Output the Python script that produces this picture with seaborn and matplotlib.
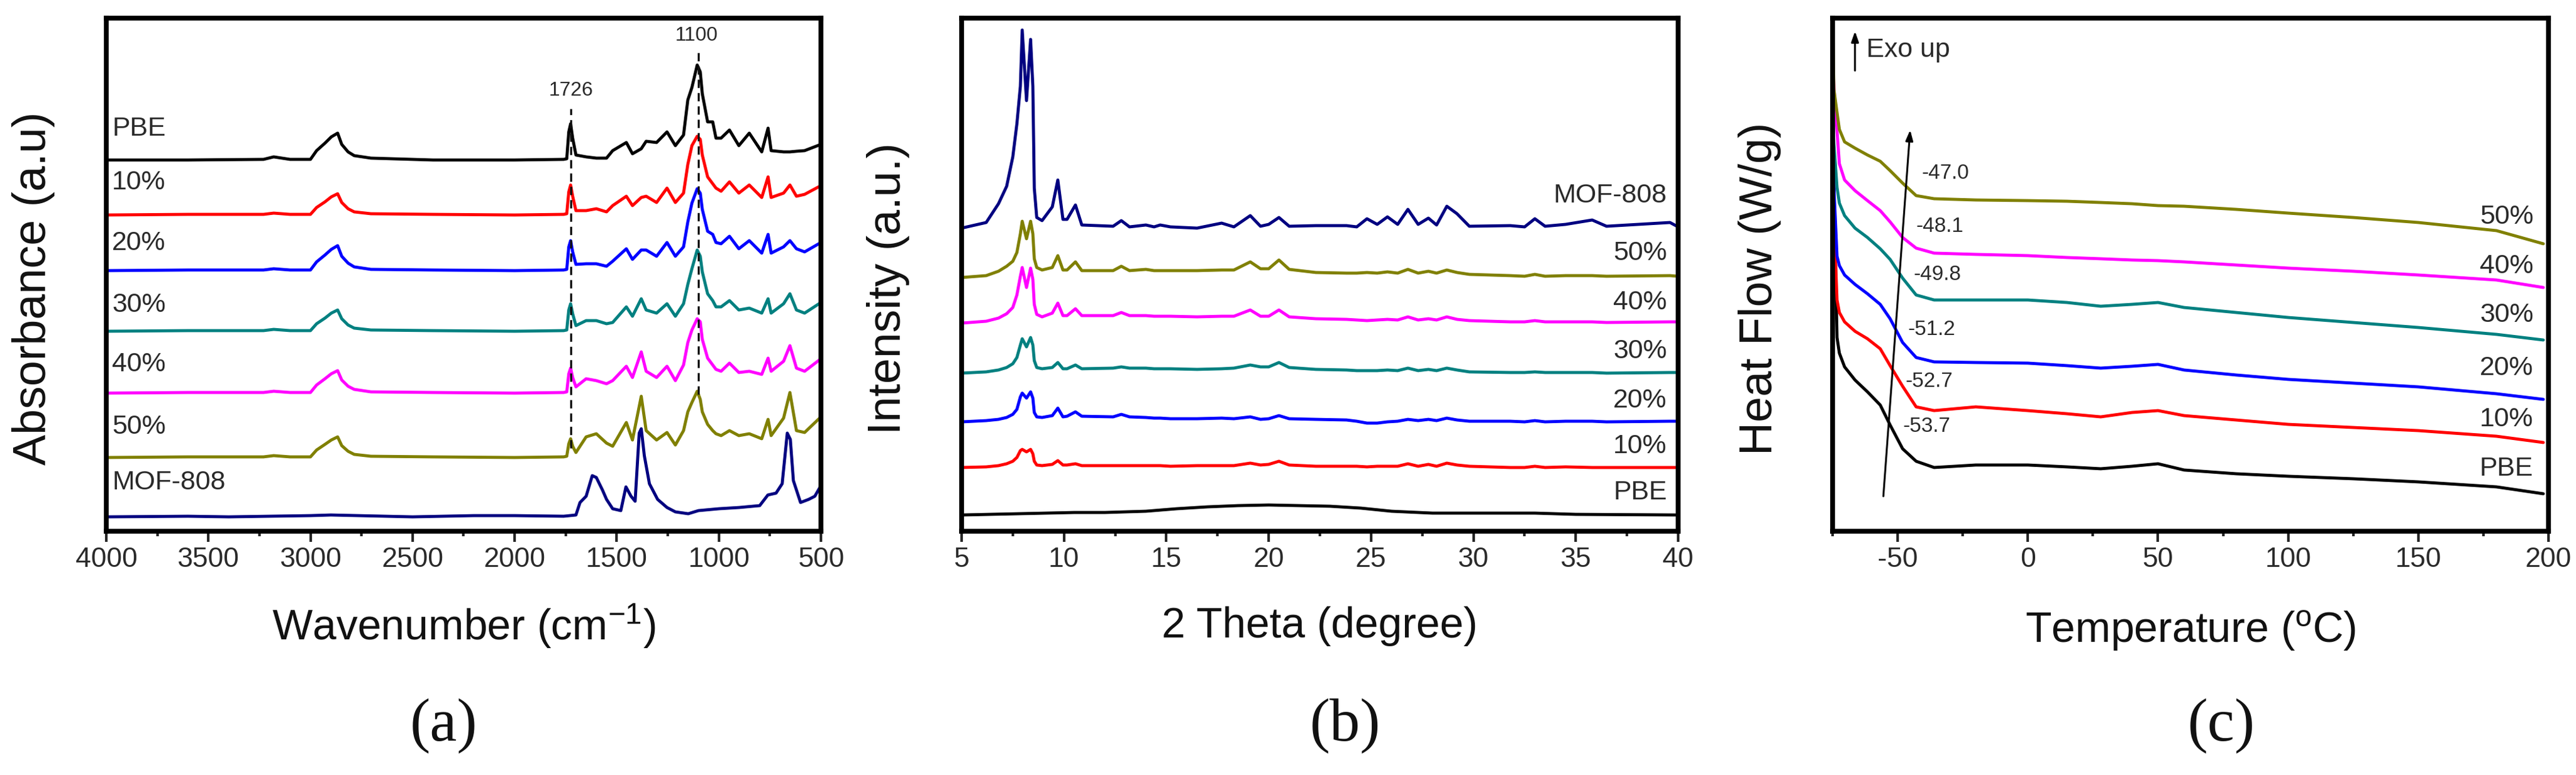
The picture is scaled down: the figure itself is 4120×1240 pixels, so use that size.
import numpy as np
import pandas as pd
import matplotlib
matplotlib.use("Agg")
import matplotlib.pyplot as plt
import seaborn as sns
from matplotlib.ticker import MultipleLocator, NullLocator

# (a) FTIR: shared wavenumber grid for PBE and the composites
FTIR_WN = [4000, 3600, 3230, 3180, 3100, 3000, 2970, 2929, 2898, 2867,
           2847, 2816, 2786, 2704, 2400, 2000, 1760, 1745, 1735, 1726,
           1716, 1700, 1650, 1600, 1550, 1520, 1453, 1423, 1380, 1356,
           1305, 1254, 1213, 1173, 1152, 1132, 1106, 1091, 1081, 1055,
           1030, 1014, 989, 948, 902, 851, 790, 759, 744, 683,
           652, 620, 580, 500]
FTIR_PBE = [0, 0, 1, 5, 1, 1, 15, 27, 37, 43, 25, 13, 7, 3, 0, 0, 1, 2, 45, 58,
            35, 8, 5, 3, 3, 15, 28, 10, 18, 30, 28, 45, 23, 40, 96, 116, 152, 141, 106, 61,
            61, 35, 35, 48, 23, 43, 13, 51, 15, 13, 13, 14, 15, 25]
FTIR_10 = [0, 1, 1, 3, 1, 1, 12, 21, 29, 34, 20, 10, 5, 2, 1, 0, 1, 2, 37, 48,
           30, 7, 7, 10, 5, 15, 30, 15, 28, 30, 20, 43, 20, 35, 81, 111, 126, 121, 96, 61,
           50, 43, 38, 53, 35, 48, 28, 61, 28, 35, 48, 30, 33, 47]
FTIR_20 = [0, 1, 1, 3, 1, 1, 14, 25, 34, 40, 23, 12, 6, 2, 1, 0, 1, 2, 38, 48,
           30, 10, 11, 11, 7, 15, 35, 18, 33, 33, 23, 45, 23, 38, 78, 108, 131, 124, 98, 63,
           58, 45, 43, 55, 35, 48, 28, 58, 28, 38, 48, 35, 30, 45]
FTIR_30 = [0, 1, 1, 3, 1, 1, 12, 21, 29, 34, 20, 10, 5, 2, 1, 0, 1, 2, 34, 44,
           28, 9, 17, 17, 12, 14, 39, 24, 52, 34, 29, 44, 24, 44, 75, 100, 130, 120, 95, 60,
           49, 39, 39, 49, 34, 37, 29, 52, 29, 44, 60, 34, 29, 46]
FTIR_40 = [0, 1, 1, 3, 1, 1, 13, 23, 31, 36, 21, 11, 6, 2, 1, 0, 1, 2, 31, 40,
           25, 10, 23, 20, 15, 20, 43, 25, 66, 35, 25, 43, 20, 45, 81, 101, 119, 114, 86, 56,
           45, 38, 35, 48, 33, 35, 30, 56, 35, 51, 76, 40, 35, 55]
FTIR_50 = [0, 1, 1, 3, 1, 1, 12, 21, 28, 33, 19, 10, 5, 2, 1, 0, 1, 2, 22, 30,
           18, 8, 33, 38, 23, 18, 56, 28, 98, 43, 28, 40, 20, 43, 73, 88, 106, 93, 73, 53,
           43, 38, 35, 43, 35, 38, 30, 61, 35, 63, 104, 43, 40, 65]
FTIR_BASE = [594, 506, 417, 320, 221, 118]
MOF_WN = [4000, 3600, 3400, 3000, 2900, 2500, 2200, 2000, 1760, 1700,
          1680, 1650, 1620, 1600, 1570, 1550, 1520, 1480, 1455, 1430,
          1410, 1390, 1380, 1365, 1340, 1300, 1254, 1213, 1150, 1100,
          1000, 900, 800, 760, 720, 690, 665, 650, 635, 600,
          560, 530, 500]
MOF_ABS = [0, 1, 0, 2, 3, 0, 2, 2, 1, 3, 23, 33, 66, 63, 43, 28, 13, 10, 48, 33,
           25, 134, 141, 98, 53, 28, 15, 8, 5, 10, 13, 15, 18, 35, 38, 53, 134, 124, 58, 23,
           28, 33, 50]
MOF_ABS_BASE = 23
PEAK_WN = [1726, 1100]
PEAK_LINE_LOW = [133, 219]
PEAK_LINE_HIGH = [676, 767]

# (b) XRD
XRD_TT = [5.0, 6.2, 6.8, 7.2, 7.5, 7.7, 7.87, 7.96, 8.17, 8.37,
          8.48, 8.55, 8.67, 8.93, 9.43, 9.7, 9.95, 10.15, 10.56, 10.87,
          12.4, 12.8, 13.2, 14.0, 14.4, 14.7, 15.2, 16.5, 17.7, 18.3,
          19.1, 19.6, 20.0, 20.5, 21.0, 22.3, 23.8, 24.3, 24.8, 25.3,
          25.8, 26.3, 26.8, 27.3, 27.8, 28.2, 28.7, 29.2, 29.8, 31.8,
          32.5, 33.0, 33.5, 34.5, 35.8, 36.5, 39.6, 40.0]
XRD_MOF = [0, 9, 39, 67, 114, 167, 227, 317, 204, 302,
           227, 64, 17, 12, 34, 77, 14, 14, 37, 5,
           3, 12, 2, 5, 2, 5, 2, 0, 8, 2,
           20, 3, 6, 17, 3, 4, 4, 2, 15, 6,
           18, 6, 30, 6, 16, 5, 35, 23, 3, 4,
           2, 15, 3, 6, 13, 3, 9, 2]
XRD_50 = [0, 3, 10, 18, 26, 40, 70, 90, 62, 90,
          70, 30, 16, 12, 16, 35, 12, 12, 25, 11,
          11, 18, 11, 13, 11, 11, 11, 11, 12, 12,
          25, 14, 14, 28, 13, 8, 7, 7, 8, 7,
          9, 7, 13, 7, 10, 7, 12, 8, 5, 3,
          2, 5, 2, 3, 3, 2, 3, 2]
XRD_40 = [0, 3, 8, 15, 25, 45, 75, 89, 57, 88,
          70, 30, 14, 10, 16, 32, 12, 12, 23, 12,
          12, 17, 12, 12, 11, 11, 11, 10, 11, 11,
          21, 11, 11, 21, 10, 7, 6, 5, 4, 5,
          6, 5, 10, 5, 7, 5, 10, 6, 4, 2,
          2, 4, 2, 2, 2, 1, 2, 2]
XRD_30 = [0, 2, 5, 9, 15, 25, 45, 55, 42, 57,
          45, 20, 9, 7, 9, 17, 7, 7, 13, 7,
          8, 10, 8, 8, 7, 7, 7, 6, 7, 8,
          13, 10, 10, 17, 9, 6, 5, 4, 4, 4,
          5, 4, 8, 4, 6, 4, 8, 5, 2, 1,
          1, 2, 1, 1, 1, 0, 1, 1]
XRD_20 = [0, 2, 4, 7, 12, 20, 40, 46, 38, 48,
          38, 15, 8, 7, 10, 22, 8, 9, 16, 9,
          8, 12, 8, 7, 6, 6, 5, 5, 6, 5,
          8, 4, 5, 10, 5, 4, 3, 1, -2, -2,
          0, 1, 4, 2, 4, 2, 6, 3, 1, 1,
          0, 2, 0, 1, 1, 0, 1, 1]
XRD_10 = [0, 1, 3, 6, 10, 16, 27, 29, 25, 29,
          22, 10, 4, 3, 5, 11, 4, 4, 6, 3,
          3, 3, 3, 3, 3, 3, 2, 3, 3, 3,
          7, 4, 5, 10, 4, 2, 2, 2, 1, 2,
          2, 2, 6, 2, 5, 2, 7, 4, 2, 0,
          0, 2, 0, 1, 0, 0, 0, 0]
XRD_BASE = [485, 406, 333, 253, 175, 102]
PBE_TT = [5, 10.5, 12, 14, 15.5, 17, 18.5, 20, 21.5, 23, 24.5, 26, 28, 33, 35, 40]
PBE_INT = [0, 4, 4, 6, 10, 13, 15, 16, 15, 14, 11, 6, 3, 3, 1, 0]
PBE_INT_BASE = 26

# (c) DSC
DSC_T = [-75, -74.5, -73.3, -72.4, -70.4, -66.4, -61.6, -56.7, -52.9, -48.1,
         -42.9, -36, -20, 0, 15, 28, 40, 50, 60, 80, 100, 125, 150, 180, 198]
DSC_50 = [821, 707, 670, 643, 623, 613, 602, 592, 577, 557, 537, 532, 530, 529, 528,
          526, 524, 521, 520, 515, 509, 502, 494, 481, 460]
DSC_40 = [767, 710, 640, 588, 562, 545, 529, 513, 495, 470, 453, 445, 443, 441, 438,
          436, 434, 433, 431, 426, 421, 416, 410, 402, 390]
DSC_30 = [663, 620, 550, 525, 505, 485, 470, 452, 435, 405, 378, 370, 370, 370, 366,
          360, 363, 366, 358, 350, 342, 334, 326, 315, 306]
DSC_20 = [620, 550, 440, 425, 410, 395, 380, 363, 340, 302, 278, 271, 270, 269, 265,
          261, 264, 267, 258, 250, 243, 237, 231, 220, 211]
DSC_10 = [577, 500, 370, 350, 335, 320, 308, 292, 265, 232, 199, 193, 199, 193, 188,
          183, 190, 193, 185, 178, 171, 166, 161, 152, 142]
DSC_PBE = [707, 550, 310, 285, 263, 242, 223, 202, 170, 132, 112, 102, 106, 106, 103,
           100, 104, 108, 98, 92, 88, 84, 79, 71, 60]
TG_TEXT = ["-47.0", "-48.1", "-49.8", "-51.2", "-52.7", "-53.7"]
TG_X = [-40.8, -42.9, -44.0, -46.0, -47.1, -48.1]
TG_Y = [572, 487, 410, 322, 239, 167]

SAMPLES = ["PBE", "10%", "20%", "30%", "40%", "50%", "MOF-808"]
COLORS = ["#000000", "#ff0000", "#0000ff", "#008080", "#ff00ff", "#808000", "#000080"]

sns.set_style("ticks")
plt.rcParams["font.family"] = ["Liberation Sans", "DejaVu Sans"]
plt.rcParams["mathtext.fontset"] = "custom"
plt.rcParams["mathtext.rm"] = "Liberation Sans"
plt.rcParams["mathtext.it"] = "Liberation Sans:italic"
plt.rcParams["axes.unicode_minus"] = False

TXT = "#2a2a2a"
LW = 3.5

fig = plt.figure(figsize=(41.2, 12.4), dpi=100)
axa = fig.add_axes([0.04126, 0.31452, 0.27743, 0.66210])
axb = fig.add_axes([0.37330, 0.31452, 0.27816, 0.66210])
axc = fig.add_axes([0.71141, 0.31452, 0.27791, 0.66210])


def style(ax, xlim, major, minor, xlabel, ylabel, lab_y):
    ax.set_xlim(*xlim)
    ax.set_ylim(0, 821)
    ax.xaxis.set_major_locator(MultipleLocator(major))
    ax.xaxis.set_minor_locator(MultipleLocator(minor))
    ax.yaxis.set_major_locator(NullLocator())
    ax.yaxis.set_minor_locator(NullLocator())
    for s in ax.spines.values():
        s.set_linewidth(5.5)
        s.set_color("black")
        s.set_visible(True)
    ax.tick_params(axis="x", which="major", direction="out", length=12, width=3,
                   pad=6, labelsize=32, labelcolor=TXT)
    ax.tick_params(axis="x", which="minor", direction="out", length=6, width=3)
    ax.set_xlabel(xlabel, fontsize=49, color="#111111")
    ax.set_ylabel(ylabel, fontsize=53, color="#111111")
    ax.xaxis.set_label_coords(0.5, lab_y)
    ax.yaxis.set_label_coords(-0.072, 0.473)


# (a)
comp_abs = [FTIR_PBE, FTIR_10, FTIR_20, FTIR_30, FTIR_40, FTIR_50]
for vals, base, col in zip(comp_abs, FTIR_BASE, COLORS[:6]):
    sns.lineplot(x=FTIR_WN, y=np.array(vals) + base, color=col, lw=LW, ax=axa,
                 estimator=None, sort=False)
sns.lineplot(x=MOF_WN, y=np.array(MOF_ABS) + MOF_ABS_BASE, color=COLORS[6], lw=LW,
             ax=axa, estimator=None, sort=False)
axa.vlines(PEAK_WN, PEAK_LINE_LOW, PEAK_LINE_HIGH, colors="#111111", lw=2.4,
           linestyles=(0, (4, 2.4)))
axa.text(1725, 705, "1726", fontsize=23, color=TXT, ha="center", va="center")
axa.text(1110, 793, "1100", fontsize=23, color=TXT, ha="center", va="center")
for name, y in zip(SAMPLES, [644, 558, 461, 362, 267, 167, 78]):
    axa.text(3972, y, name, fontsize=31, color=TXT, ha="left", va="center")
style(axa, (4000, 500), 500, 250, r"Wavenumber (cm$^{-1}$)", "Absorbance (a.u)", -0.139)

# (b)
xrd_int = [XRD_MOF, XRD_50, XRD_40, XRD_30, XRD_20, XRD_10]
for vals, base, col in zip(xrd_int, XRD_BASE, COLORS[::-1][:6]):
    sns.lineplot(x=XRD_TT, y=np.array(vals) + base, color=col, lw=LW, ax=axb,
                 estimator=None, sort=False)
sns.lineplot(x=PBE_TT, y=np.array(PBE_INT) + PBE_INT_BASE, color=COLORS[0], lw=LW,
             ax=axb, estimator=None, sort=False)
for name, y in zip(SAMPLES[::-1], [537, 445, 366, 288, 209, 136, 62]):
    axb.text(39.45, y, name, fontsize=31, color=TXT, ha="right", va="center")
style(axb, (5, 40), 5, 2.5, "2 Theta (degree)", "Intensity (a.u.)", -0.146)

# (c)
dsc = pd.DataFrame({"T": DSC_T, "PBE": DSC_PBE, "10%": DSC_10, "20%": DSC_20,
                    "30%": DSC_30, "40%": DSC_40, "50%": DSC_50})
for name, col in zip(SAMPLES[:6], COLORS[:6]):
    sns.lineplot(data=dsc, x="T", y=name, color=col, lw=LW, ax=axc,
                 estimator=None, sort=False)
for txt, x, y in zip(TG_TEXT, TG_X, TG_Y):
    axc.text(x, y, txt, fontsize=24, color=TXT, ha="left", va="center")
axc.annotate("", xy=(-45.2, 642), xytext=(-55.5, 56),
             arrowprops=dict(arrowstyle="-|>,head_length=1.0,head_width=0.35",
                             lw=2.2, color="black", shrinkA=0, shrinkB=0))
axc.annotate("", xy=(-66.4, 800), xytext=(-66.4, 737),
             arrowprops=dict(arrowstyle="-|>,head_length=1.0,head_width=0.35",
                             lw=2.2, color="black", shrinkA=0, shrinkB=0))
axc.text(-62, 770, "Exo up", fontsize=31, color=TXT, ha="left", va="center")
for name, y in zip(SAMPLES[5::-1], [503, 424, 346, 261, 179, 100]):
    axc.text(194.2, y, name, fontsize=31, color=TXT, ha="right", va="center")
style(axc, (-75, 200), 50, 25, r"Temperature ($^{\rm o}$C)", "Heat Flow (W/g)", -0.152)

for lab, x in zip(["(a)", "(b)", "(c)"], [0.1723, 0.5223, 0.8624]):
    fig.text(x, 0.063, lab, fontsize=70, family="Liberation Serif", ha="center",
             va="center", color="#111111")

fig.savefig("out.png", dpi=100)
